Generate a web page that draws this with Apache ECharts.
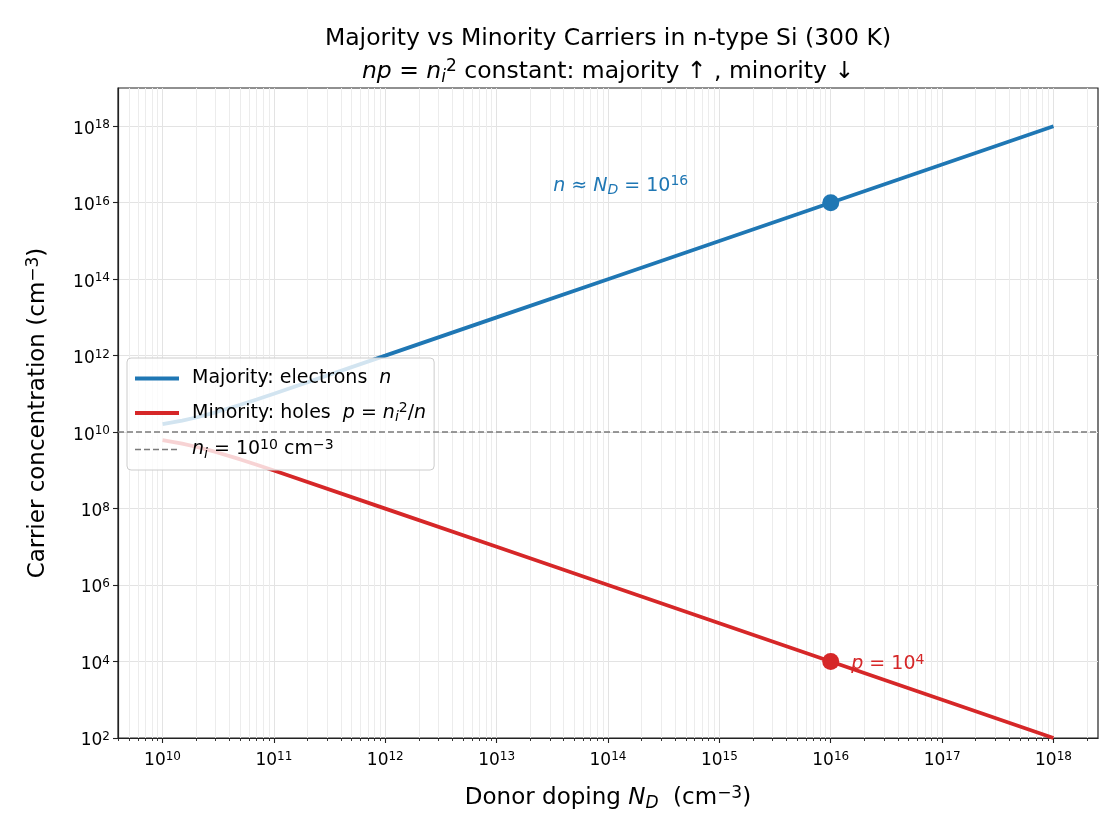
<!DOCTYPE html>
<html>
<head>
<meta charset="utf-8">
<title>Majority vs Minority Carriers in n-type Si</title>
<script src="https://cdn.jsdelivr.net/npm/echarts@6/dist/echarts.min.js"></script>
<style>
  html, body { margin: 0; padding: 0; background: #fff; }
  #chart { width: 1120px; height: 840px; }
</style>
</head>
<body>
<div id="chart"></div>
<script>
  // donor doping N_D (cm^-3) and carrier densities
  const donorDoping = [1e10, 1.5e10, 2e10, 3e10, 5e10, 7e10, 1e11, 1e12, 1e13, 1e14, 1e15, 1e16, 1e17, 1e18];
  const electrons   = [1.62e10, 2.0e10, 2.41e10, 3.3e10, 5.19e10, 7.14e10, 1.01e11, 1e12, 1e13, 1e14, 1e15, 1e16, 1e17, 1e18];
  const holes       = [6.18e9, 5.0e9, 4.14e9, 3.03e9, 1.93e9, 1.4e9, 9.9e8, 1e8, 1e7, 1e6, 1e5, 1e4, 1e3, 1e2];
  const intrinsic = 1e10;

  // highlighted operating point
  const markDoping = [1e16];
  const markElectrons = [1e16];
  const markHoles = [1e4];

  // tick exponents
  const xTickExp = [10, 11, 12, 13, 14, 15, 16, 17, 18];
  const yTickExp = [2, 4, 6, 8, 10, 12, 14, 16, 18];

  const FONT = 'DejaVu Sans';
  const BLUE = '#1f77b4';
  const RED = '#d62728';
  const X_MIN = 9.6, X_MAX = 18.4;

  // log-minor tick positions (2..9 x 10^k)
  let xMinorExp = [];
  for (let k = 9; k <= 18; k++) {
    for (let m = 2; m <= 9; m++) {
      let e = Math.log10(m) + k;
      if (e > X_MIN && e < X_MAX) xMinorExp.push(e);
    }
  }

  const lg = Math.log10;
  let pairs = function (xs, ys) {
    return xs.map(function (x, i) { return [lg(x), lg(ys[i])]; });
  };

  let richSet = function (size, color) {
    return {
      i: {fontStyle: 'italic', fontSize: size, fontFamily: FONT, color: color},
      sub: {fontStyle: 'italic', fontSize: Math.round(size * 0.72), fontFamily: FONT, color: color, padding: [Math.round(size * 0.45), 0, 0, 0]},
      sup: {fontSize: Math.round(size * 0.72), fontFamily: FONT, color: color, padding: [0, 0, Math.round(size * 0.45), 0]}
    };
  };

  const legendText = {
    'Majority': 'Majority: electrons  {i|n}',
    'Minority': 'Minority: holes  {i|p} = {i|n}{sub|i}{sup|2}/{i|n}',
    'ni': '{i|n}{sub|i} = 10{sup|10} cm{sup|\u22123}'
  };

  let myChart = echarts.init(document.getElementById('chart'));
  let option = {
    backgroundColor: '#ffffff',
    animation: false,
    title: [{
      text: 'Majority vs Minority Carriers in n-type Si (300 K)',
      left: 608,
      top: 27,
      padding: 0,
      textAlign: 'center',
      textStyle: {fontFamily: FONT, fontSize: 23.5, fontWeight: 'normal', color: '#000'}
    }, {
      text: '{i|np} = {i|n}{sub|i}{sup|2} constant: majority \u2191 , minority \u2193',
      left: 608,
      top: 58,
      padding: 0,
      textAlign: 'center',
      textStyle: {fontFamily: FONT, fontSize: 23.5, fontWeight: 'normal', color: '#000', rich: richSet(23.5, '#000')}
    }],
    legend: {
      data: [
        {name: 'Majority', lineStyle: {width: 4}},
        {name: 'Minority', lineStyle: {width: 4}},
        {name: 'ni', lineStyle: {width: 1.6}}
      ],
      orient: 'vertical',
      left: 127,
      top: 358,
      padding: [11, 8, 9, 6],
      itemGap: 13.5,
      itemWidth: 44,
      itemHeight: 14,
      backgroundColor: 'rgba(255,255,255,0.8)',
      borderColor: '#cccccc',
      borderWidth: 1,
      borderRadius: 4,
      itemStyle: {color: 'rgba(0,0,0,0)', opacity: 0, borderWidth: 0},
      formatter: function (name) { return legendText[name]; },
      textStyle: {fontFamily: FONT, fontSize: 19, color: '#000', padding: [0, 0, 0, 8], rich: richSet(19, '#000')}
    },
    grid: {
      left: 118, right: 22, top: 88, bottom: 102,
      show: true, borderColor: '#222', borderWidth: 1.2
    },
    xAxis: [{
      type: 'value',
      min: X_MIN, max: X_MAX,
      position: 'bottom',
      axisLine: {show: true, lineStyle: {color: '#222', width: 1.2}},
      axisTick: {show: true, customValues: xTickExp, length: 5, lineStyle: {color: '#222', width: 1.1}},
      axisLabel: {
        customValues: xTickExp,
        margin: 13,
        color: '#000', fontFamily: FONT, fontSize: 17,
        formatter: function (v) { return '10{sup|' + Math.round(v) + '}'; },
        rich: richSet(17, '#000')
      },
      splitLine: {show: true, lineStyle: {color: '#e3e3e3', width: 1}},
      name: 'Donor doping {i|N}{sub|D}  (cm{sup|\u22123})',
      nameLocation: 'middle',
      nameGap: 47,
      nameTextStyle: {fontFamily: FONT, fontSize: 23, color: '#000', rich: richSet(23, '#000')}
    }, {
      type: 'value',
      min: X_MIN, max: X_MAX,
      position: 'bottom',
      axisLine: {show: false},
      axisTick: {show: true, customValues: xMinorExp, length: 3, lineStyle: {color: '#222', width: 0.9}},
      axisLabel: {show: false},
      splitLine: {show: true, lineStyle: {color: '#ececec', width: 1}}
    }],
    yAxis: {
      type: 'value',
      min: 2, max: 19,
      axisLine: {show: true, lineStyle: {color: '#222', width: 1.2}},
      axisTick: {show: true, customValues: yTickExp, length: 5, lineStyle: {color: '#222', width: 1.1}},
      axisLabel: {
        customValues: yTickExp,
        margin: 8,
        padding: [6, 0, 0, 0],
        color: '#000', fontFamily: FONT, fontSize: 17,
        formatter: function (v) { return '10{sup|' + Math.round(v) + '}'; },
        rich: richSet(17, '#000')
      },
      splitLine: {show: true, lineStyle: {color: '#e3e3e3', width: 1}},
      name: 'Carrier concentration (cm{sup|\u22123})',
      nameLocation: 'middle',
      nameGap: 66,
      nameTextStyle: {fontFamily: FONT, fontSize: 23, color: '#000', rich: richSet(23, '#000')}
    },
    series: [{
      name: 'Majority',
      type: 'line',
      data: pairs(donorDoping, electrons),
      symbol: 'none',
      color: BLUE,
      lineStyle: {color: BLUE, width: 3.8},
      z: 3
    }, {
      name: 'Minority',
      type: 'line',
      data: pairs(donorDoping, holes),
      symbol: 'none',
      color: RED,
      lineStyle: {color: RED, width: 3.8},
      z: 3
    }, {
      name: 'ni',
      type: 'line',
      data: [],
      symbol: 'none',
      color: '#7a7a7a',
      lineStyle: {color: '#7a7a7a', width: 1.6, type: [6, 3]},
      markLine: {
        silent: true,
        symbol: 'none',
        label: {show: false},
        lineStyle: {color: '#7a7a7a', width: 1.6, type: [6, 3]},
        data: [{yAxis: lg(intrinsic)}]
      },
      z: 2
    }, {
      name: 'markN',
      type: 'scatter',
      data: pairs(markDoping, markElectrons),
      symbolSize: 17,
      itemStyle: {color: BLUE, opacity: 1},
      label: {
        show: true,
        position: 'left',
        distance: 134,
        offset: [0, -17],
        color: BLUE, fontFamily: FONT, fontSize: 19,
        formatter: '{i|n} \u2248 {i|N}{sub|D} = 10{sup|16}',
        rich: richSet(19, BLUE)
      },
      z: 4
    }, {
      name: 'markP',
      type: 'scatter',
      data: pairs(markDoping, markHoles),
      symbolSize: 17,
      itemStyle: {color: RED, opacity: 1},
      label: {
        show: true,
        position: 'right',
        distance: 12,
        offset: [0, 3],
        color: RED, fontFamily: FONT, fontSize: 19,
        formatter: '{i|p} = 10{sup|4}',
        rich: richSet(19, RED)
      },
      z: 4
    }]
  };
  myChart.setOption(option);
</script>
</body>
</html>
